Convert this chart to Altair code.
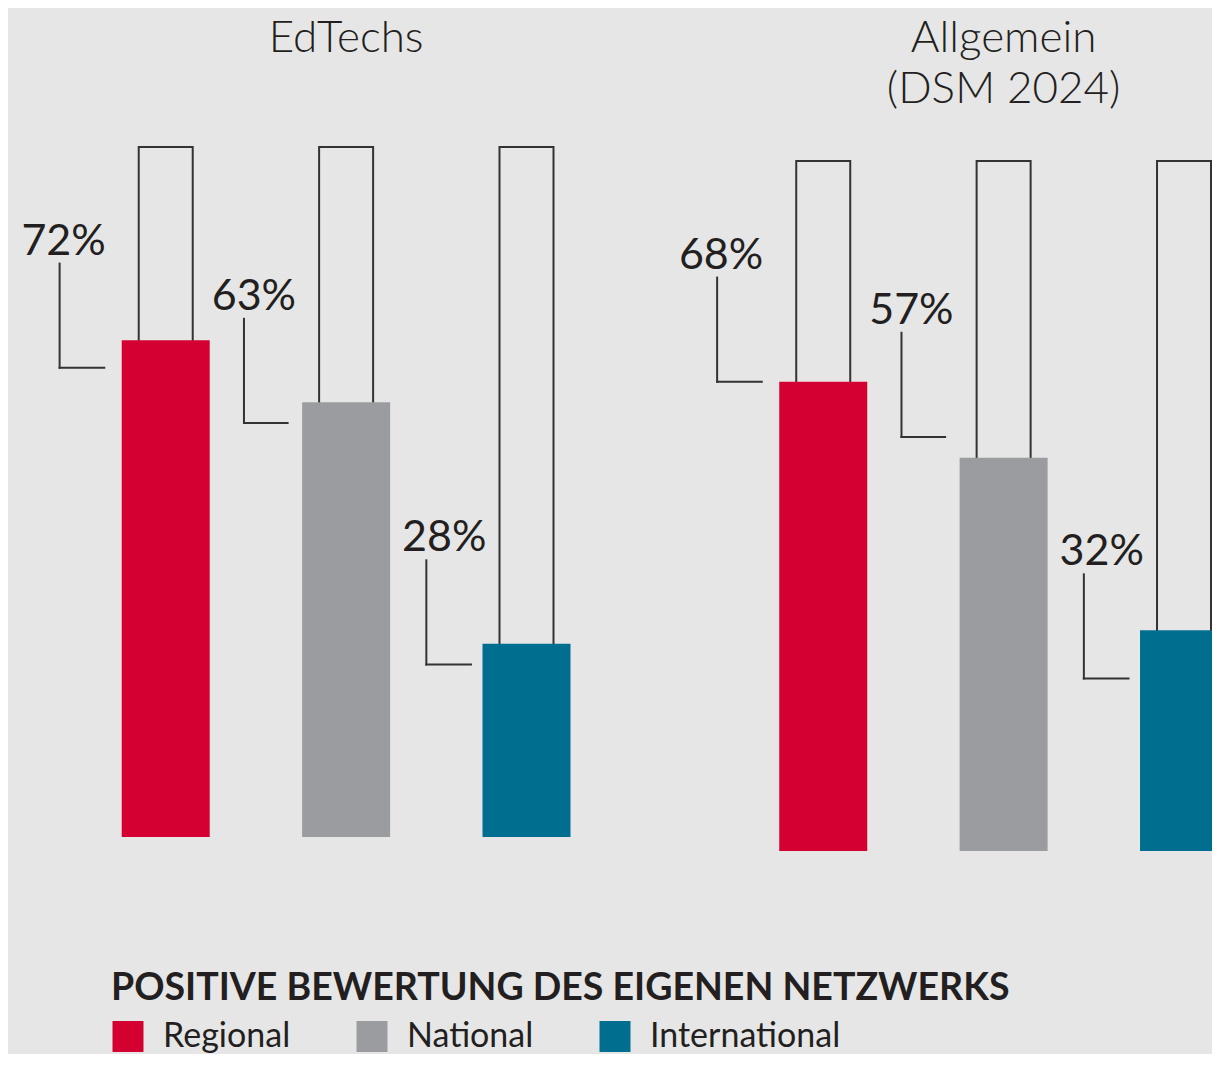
import altair as alt
import pandas as pd

# ---------------- data ----------------
groups = ["EdTechs", "Allgemein\n(DSM 2024)"]
categories = ["Regional", "National", "International"]
edtechs_values = [72, 63, 28]
allgemein_values = [68, 57, 32]
colors = ["#D50032", "#9B9CA0", "#006F8F"]
legend_title = "POSITIVE BEWERTUNG DES EIGENEN NETZWERKS"

# ---------------- layout constants ----------------
W, H = 1204, 1046          # whole view (autosize none, padding 0)
X0 = 154                   # px of first bar centre
UNIT = 181.9               # px between neighbouring bars
GROUP_STEP = 3.645         # bar slots from one group start to the next
GROUP_BASE_Y = [829, 843]  # px of 0 % in each group (the source is slightly skewed)
PX_PER_PCT = 6.9
INK = "#231F20"
LINE = "#333333"
FONT = "Lato"

x_scale = alt.Scale(domain=[-X0 / UNIT, (W - X0) / UNIT], nice=False, zero=False)

# per category annotation layout: text dx, leader dx, leader end dx (px), leader level (%)
label_layout = {
    "Regional": (-103, -107, -62, 68),
    "National": (-93, -103, -59, 60),
    "International": (-83, -101, -56, 25),
}

color_enc = alt.Color(
    "category:N",
    sort=categories,
    scale=alt.Scale(domain=categories, range=colors),
    legend=alt.Legend(
        title=legend_title, orient="none", legendX=103, legendY=962,
        direction="horizontal", symbolType="square", symbolSize=961,
        symbolStrokeWidth=0, symbolOpacity=1,
        titleFont=FONT, titleFontSize=37.5, titleFontWeight=700, titleColor=INK,
        titleLimit=1200, titlePadding=12,
        labelFont=FONT, labelFontSize=34, labelColor=INK, labelLimit=400,
        labelOffset=18, columnPadding=64,
    ),
)


def X(f):
    return alt.X(f"{f}:Q", scale=x_scale, axis=None)


def group_layers(gi, name, vals):
    base = GROUP_BASE_Y[gi]
    ys = alt.Scale(domain=[-(H - base) / PX_PER_PCT, base / PX_PER_PCT], nice=False, zero=False)

    def Y(f):
        return alt.Y(f"{f}:Q", scale=ys, axis=None)

    rows = []
    for ci, (c, v) in enumerate(zip(categories, vals)):
        pos = gi * GROUP_STEP + ci
        tdx, ldx, edx, lvl = label_layout[c]
        rows.append(dict(
            group=name, category=c, value=v, label=f"{v}%", pos=pos,
            full=100, base=0, inner=v / 2,
            label_x=pos + tdx / UNIT, line_x=pos + ldx / UNIT, end_x=pos + edx / UNIT,
            level=lvl, top=lvl + 15.1, text_y=lvl + 18.3,
        ))
    df = pd.DataFrame(rows)

    outline = alt.Chart(df).mark_bar(width=54, fill="transparent", stroke=LINE, strokeWidth=2).encode(
        x=X("pos"), y=Y("full"), y2="inner"
    )
    bars = alt.Chart(df).mark_bar(width=88).encode(
        x=X("pos"), y=Y("value"), y2="base", color=color_enc
    )
    vlines = alt.Chart(df).mark_rule(color=LINE, strokeWidth=2, strokeCap="square").encode(
        x=X("line_x"), y=Y("top"), y2="level"
    )
    hlines = alt.Chart(df).mark_rule(color=LINE, strokeWidth=2, strokeCap="square").encode(
        x=X("line_x"), x2="end_x", y=Y("level")
    )
    labels = alt.Chart(df).mark_text(font=FONT, fontSize=43, color=INK, align="center", baseline="middle").encode(
        x=X("label_x"), y=Y("text_y"), text="label:N"
    )
    return [outline, bars, vlines, hlines, labels]


layers = []
for gi, (g, vals) in enumerate(zip(groups, [edtechs_values, allgemein_values])):
    layers += group_layers(gi, g, vals)

titles = pd.DataFrame({"group": groups, "pos": [gi * GROUP_STEP + 1 for gi in range(len(groups))]})
title_text = alt.Chart(titles).mark_text(
    font=FONT, fontSize=44, fontWeight=300, color=INK, align="center",
    baseline="alphabetic", lineBreak="\n", lineHeight=51,
).encode(x=X("pos"), y=alt.value(44), text="group:N")

chart = alt.layer(*layers, title_text).resolve_scale(y="independent").properties(
    width=W, height=H, padding=0,
    autosize=alt.AutoSizeParams(type="none"),
    background="#E6E6E6",
).configure_view(strokeWidth=0)

chart.save("out.html", embed_options={"renderer": "svg", "actions": False})
